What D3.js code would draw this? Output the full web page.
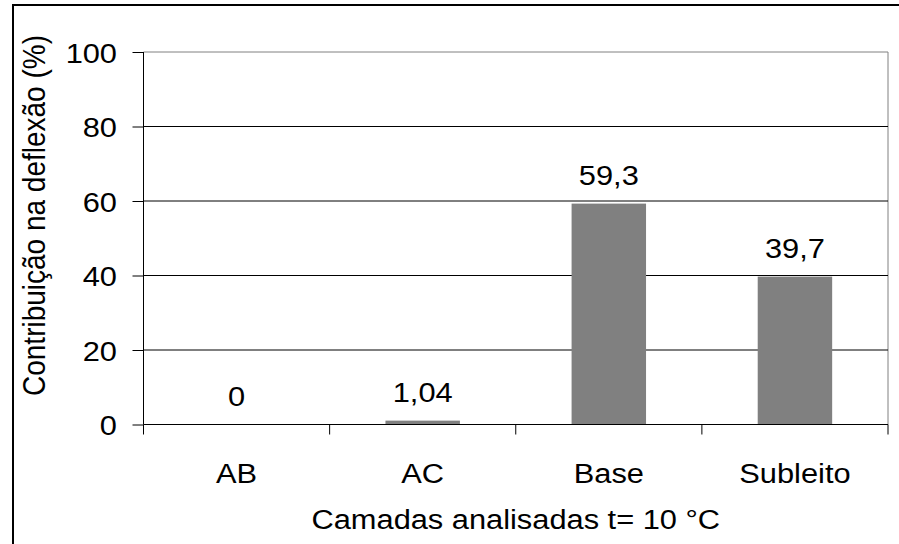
<!DOCTYPE html>
<html>
<head>
<meta charset="utf-8">
<script src="https://cdn.jsdelivr.net/npm/d3@7"></script>
<style>
  html, body { margin: 0; padding: 0; background: #fff; }
  svg { display: block; }
  text { font-family: "Liberation Sans", Arial, sans-serif; fill: #000; }
</style>
</head>
<body>
<svg id="chart" width="899" height="544"></svg>
<script>
const categories = ["AB", "AC", "Base", "Subleito"];
const values = [0, 1.04, 59.3, 39.7];
const yTicks = [0, 20, 40, 60, 80, 100];
const yTitle = "Contribuição na deflexão (%)";
const xTitle = "Camadas analisadas t= 10 °C";

(function () {
const W = 899, H = 544;
const pLeft = 143.5, pRight = 888, pTop = 52, pBottom = 424.5;
const FS = 28, SX = 1.1;
const fmt = v => String(v).replace(".", ",");

const svg = d3.select("#chart");
svg.append("rect").attr("width", W).attr("height", H).attr("fill", "#fff");

// outer frame
svg.append("rect").attr("x", 13).attr("y", 5).attr("width", 900).attr("height", 545)
  .attr("fill", "none").attr("stroke", "#000").attr("stroke-width", 2);

const x = d3.scaleBand().domain(categories).range([pLeft, pRight]).paddingInner(0.6).paddingOuter(0.3);
const y = d3.scaleLinear().domain([0, 100]).range([pBottom, pTop]);

// plot area border top/right (gray)
svg.append("path")
  .attr("d", `M${pLeft},${y(100)}H${pRight}V${pBottom}`)
  .attr("fill", "none").attr("stroke", "#808080").attr("stroke-width", 1);

// gridlines
svg.append("g").selectAll("line").data(yTicks.filter(t => t > 0 && t < 100)).join("line")
  .attr("x1", pLeft).attr("x2", pRight)
  .attr("y1", d => y(d)).attr("y2", d => y(d))
  .attr("stroke", "#000").attr("stroke-width", 1);

// bars
svg.append("g").selectAll("rect").data(values).join("rect")
  .attr("x", (d, i) => x(categories[i]))
  .attr("width", x.bandwidth())
  .attr("y", d => y(d))
  .attr("height", d => y(0) - y(d))
  .attr("fill", "#808080");

// y axis
const yAxis = d3.axisLeft(y).tickValues(yTicks).tickSize(11).tickFormat("");
const gy = svg.append("g").attr("transform", `translate(${pLeft},0)`).call(yAxis);
gy.select(".domain").attr("stroke", "#000").attr("d", `M0,${y(100)}V${pBottom}`);
gy.selectAll(".tick line").attr("stroke", "#000");

// x axis with ticks at category boundaries
const gx = svg.append("g");
gx.append("line").attr("x1", pLeft).attr("x2", pRight).attr("y1", pBottom).attr("y2", pBottom).attr("stroke", "#000");
gx.selectAll("line.tk").data(d3.range(categories.length + 1)).join("line").attr("class", "tk")
  .attr("x1", i => pLeft + i * x.step()).attr("x2", i => pLeft + i * x.step())
  .attr("y1", pBottom).attr("y2", pBottom + 10).attr("stroke", "#000");

function stretchedText(tx, ty, str, anchor, rot) {
  return svg.append("text")
    .attr("transform", `translate(${tx},${ty}) scale(${SX},1)` + (rot ? ` rotate(${rot})` : ""))
    .attr("text-anchor", anchor)
    .attr("font-size", FS)
    .text(str);
}

yTicks.forEach(t => stretchedText(117, y(t) + 10.5, String(t), "end"));
categories.forEach(c => stretchedText(x(c) + x.bandwidth() / 2, 483, c, "middle"));
values.forEach((v, i) => stretchedText(x(categories[i]) + x.bandwidth() / 2, y(v) - 19, fmt(v), "middle"));

stretchedText((pLeft + pRight) / 2, 529, xTitle, "middle");
stretchedText(45, 215.5, yTitle, "middle", -90);
})();
</script>
</body>
</html>
